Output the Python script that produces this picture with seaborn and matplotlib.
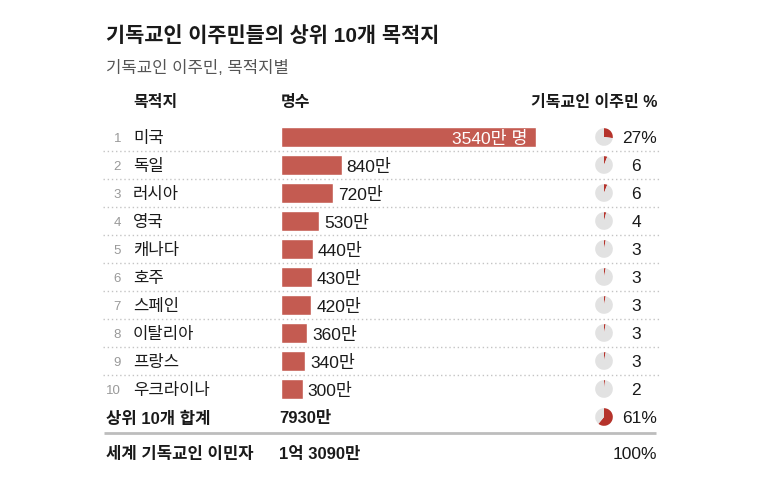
import matplotlib
matplotlib.use('Agg')
import matplotlib.pyplot as plt
import seaborn as sns
from matplotlib.transforms import Affine2D, blended_transform_factory

# Data (Christian migrants, in units of 만)
countries = ['미국', '독일', '러시아', '영국', '캐나다', '호주', '스페인', '이탈리아', '프랑스', '우크라이나']
migrants = [3540, 840, 720, 530, 440, 430, 420, 360, 340, 300]
value_labels = ['3540만 명', '840만', '720만', '530만', '440만', '430만', '420만', '360만', '340만', '300만']
share = [27, 6, 6, 4, 3, 3, 3, 3, 3, 2]

total_name = '상위 10개 합계'
total_label = '7930만'
total_share = 61
world_name = '세계 기독교인 이민자'
world_label = '1억 3090만'
world_share = 100

title = '기독교인 이주민들의 상위 10개 목적지'
subtitle = '기독교인 이주민, 목적지별'
headers = ['목적지', '명수', '기독교인 이주민 %']

sns.set_theme(style='white')
# Helvetica-like digits, Korean glyphs from Noto
plt.rcParams['font.family'] = ['Liberation Sans', 'Noto Sans CJK KR', 'DejaVu Sans']

BAR = '#c45b51'
PIE_RED = '#b5332b'
PIE_GREY = '#e2e2e2'
INK = '#1a1a1a'

W, H = 760, 478
ROW0, ROW_H = 137, 28          # pixel y of first row, row spacing
BAR_X0, BAR_PX = 281, 255      # bar start and pixel length of the largest bar
DY = 0.07                      # nudge text down a touch to sit on the bar centre

fig = plt.figure(figsize=(W / 100, H / 100), dpi=100)
ax = fig.add_axes([0, 0, 1, 1])

sns.barplot(x=migrants, y=countries, orient='h', color=BAR, saturation=1,
            width=0.72, ax=ax)

# map data units so the bars start at x=281px and rows sit 28px apart
unit = max(migrants) / BAR_PX
ax.set_xlim(-BAR_X0 * unit, (W - BAR_X0) * unit)
ax.set_ylim((H - ROW0) / ROW_H, -ROW0 / ROW_H)
ax.axis('off')

# x in pixels, y in row units
tx = blended_transform_factory(Affine2D().scale(1 / W, 1) + fig.transFigure, ax.transData)

# title and subtitle
fig.text(106 / W, 1 - 36 / H, title, fontsize=15, fontweight='bold', color=INK, va='center')
fig.text(106 / W, 1 - 68 / H, subtitle, fontsize=12, color='#555555', va='center')

# column headers
hy = (101 - ROW0) / ROW_H + DY
ax.text(133, hy, headers[0], transform=tx, fontsize=11.5, fontweight='bold', color=INK, va='center')
ax.text(281, hy, headers[1], transform=tx, fontsize=11.5, fontweight='bold', color=INK, va='center')
ax.text(657, hy, headers[2], transform=tx, fontsize=11.5, fontweight='bold', color=INK, va='center', ha='right')


def draw_pie(row, pct):
    yc = ROW0 + ROW_H * row
    pax = fig.add_axes([(604 - 9) / W, 1 - (yc + 9) / H, 18 / W, 18 / H])
    pax.pie([pct, 100 - pct], colors=[PIE_RED, PIE_GREY], startangle=90,
            counterclock=False, radius=1, wedgeprops={'linewidth': 0})
    pax.set_xlim(-1.02, 1.02)
    pax.set_ylim(-1.02, 1.02)
    pax.axis('off')


def draw_pct(row, pct, percent_sign, weight='normal'):
    if percent_sign:
        ax.text(657, row + DY, f'{pct}%', transform=tx, fontsize=12.5, color=INK,
                va='center', ha='right', fontweight=weight)
    else:
        ax.text(641, row + DY, str(pct), transform=tx, fontsize=12.5, color=INK,
                va='center', ha='right', fontweight=weight)


for i, (name, v, lab, s) in enumerate(zip(countries, migrants, value_labels, share)):
    ax.text(121, i + DY, str(i + 1), transform=tx, fontsize=9.5, color='#999999', va='center', ha='right')
    ax.text(133, i + DY, name, transform=tx, fontsize=12, color=INK, va='center')
    if i == 0:
        ax.annotate(lab, (v, i + DY), xytext=(-8, 0), textcoords='offset pixels',
                    fontsize=12.5, color='white', va='center', ha='right')
    else:
        ax.annotate(lab, (v, i + DY), xytext=(5, 0), textcoords='offset pixels',
                    fontsize=12.5, color=INK, va='center', ha='left')
    draw_pie(i, s)
    draw_pct(i, s, i == 0)
    if i < len(countries) - 1:
        ax.plot([103, 660], [i + 0.5, i + 0.5], transform=tx, color='#c4c4c4',
                lw=1, linestyle=(0, (1, 2)))

# top-10 total row
ty = len(countries)
ax.text(106, ty + DY, total_name, transform=tx, fontsize=12, fontweight='bold', color=INK, va='center')
ax.text(279, ty + DY, total_label, transform=tx, fontsize=12, fontweight='bold', color=INK, va='center')
draw_pie(ty, total_share)
draw_pct(ty, total_share, True)

# separator
sy = (433 - ROW0) / ROW_H
ax.plot([104, 656], [sy, sy], transform=tx, color='#bdbdbd', lw=2, solid_capstyle='butt')

# world row
wy = (453 - ROW0) / ROW_H
ax.text(106, wy + DY, world_name, transform=tx, fontsize=12, fontweight='bold', color=INK, va='center')
ax.text(279, wy + DY, world_label, transform=tx, fontsize=12, fontweight='bold', color=INK, va='center')
draw_pct(wy, world_share, True)

fig.savefig('out.png', dpi=100)
